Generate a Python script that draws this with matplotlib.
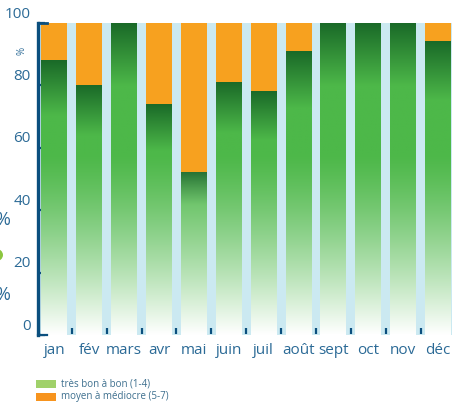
import numpy as np
import matplotlib
matplotlib.use("Agg")
import matplotlib.pyplot as plt
import matplotlib.transforms as mtransforms
from matplotlib.colors import to_rgb
from matplotlib.patches import Rectangle, Circle

months = ["jan", "fév", "mars", "avr", "mai", "juin", "juil", "août", "sept", "oct", "nov", "déc"]
good = [88, 80, 100, 74, 52, 81, 78, 91, 100, 100, 100, 94]
yticks = [0, 20, 40, 60, 80, 100]
legend_labels = ["très bon à bon (1-4)", "moyen à médiocre (5-7)"]

plt.rcParams['font.family'] = ['Open Sans', 'DejaVu Sans']

W, H = 453, 404
fig = plt.figure(figsize=(W / 100, H / 100), dpi=100)
ax = fig.add_axes([38 / W, (H - 335) / H, (452 - 38) / W, (335 - 23) / H])

blue_bg = "#cbe9f1"
axis_blue = "#0b4f7e"
text_blue = "#2b6a96"
orange = "#f7a11f"
dark = np.array(to_rgb("#1a6a28"))
mid = np.array(to_rgb("#4db849"))
white = np.array([1.0, 1.0, 1.0])

ax.set_facecolor(blue_bg)
bw = 0.745
x = np.arange(len(months))
bad = [100 - g for g in good]

# orange (rest) bars
ax.bar(x, bad, bottom=good, width=bw, color=orange, zorder=2)

# green gradient bars
n = 300
for xi, g in zip(x, good):
    ys = np.linspace(g, 0, n)  # top to bottom
    frac = (g - ys) / g
    d = np.clip(1 - frac / 0.2, 0, 1)
    base = mid[None, :] * (1 - d[:, None]) + dark[None, :] * d[:, None]
    w = np.clip(1 - ys / 58.0, 0, 1) ** 1.25
    col = base * (1 - w[:, None]) + white[None, :] * w[:, None]
    img = np.repeat(col[:, None, :], 2, axis=1)
    ax.imshow(img, extent=[xi - bw / 2, xi + bw / 2, 0, g], aspect='auto',
              interpolation='bilinear', zorder=2)

ax.set_xlim(-0.47, 11.4)
ax.set_ylim(0, 100)

# spines
for s in ["top", "right", "bottom"]:
    ax.spines[s].set_visible(False)
ax.spines["left"].set_color(axis_blue)
ax.spines["left"].set_linewidth(2.4)
ax.spines["left"].set_zorder(5)

# y ticks
ax.set_yticks(yticks)
ax.tick_params(axis='y', direction='in', length=5, width=1.6, color=axis_blue,
               labelleft=False)
offset = mtransforms.ScaledTranslation(0, 9 / 100, fig.dpi_scale_trans)
trans = mtransforms.blended_transform_factory(ax.transAxes, ax.transData)
for v in yticks:
    ax.text(-0.018, v, str(v), transform=trans + offset, ha='right', va='center',
            fontsize=11, color=text_blue)

# top cap and bottom foot
ax.plot([0, 0.022], [100, 100], transform=trans, color=axis_blue, lw=2, clip_on=False, zorder=6)
ax.plot([0, 0.022], [0, 0], transform=trans, color=axis_blue, lw=1.6, clip_on=False, zorder=6)

# x ticks: small marks in the gaps
ax.set_xticks(x)
ax.set_xticklabels(months, fontsize=11, color=text_blue)
ax.tick_params(axis='x', length=0, pad=6)
for xi in x[:-1]:
    ax.plot([xi + 0.5, xi + 0.5], [0.3, 2.2], color=axis_blue, lw=1.6, zorder=4,
            solid_capstyle='butt')

# rotated % unit
fig.text(22 / W, 1 - 51 / H, "%", rotation=90, fontsize=7, color=text_blue,
         ha='center', va='center')

# cropped fragments at the left edge
fig.text(-5 / W, 1 - 220 / H, "%", fontsize=13, color=text_blue, ha='left', va='center')
fig.text(-5 / W, 1 - 295 / H, "%", fontsize=13, color=text_blue, ha='left', va='center')
fig.add_artist(Circle((-4 / W, 1 - 255 / H), 7 / W, transform=fig.transFigure,
                      facecolor="#8cc63f", edgecolor='none'))

# legend
leg_cols = ["#a0d16a", "#f7941e"]
for i, (lab, c) in enumerate(zip(legend_labels, leg_cols)):
    yc = 384 + i * 13
    fig.add_artist(Rectangle((36 / W, 1 - (yc + 4) / H), 20 / W, 8 / H,
                             transform=fig.transFigure, facecolor=c, edgecolor='none'))
    fig.text(61 / W, 1 - yc / H, lab, fontsize=7, color="#3d6f8e", ha='left', va='center')

fig.savefig("out.png", dpi=100)
